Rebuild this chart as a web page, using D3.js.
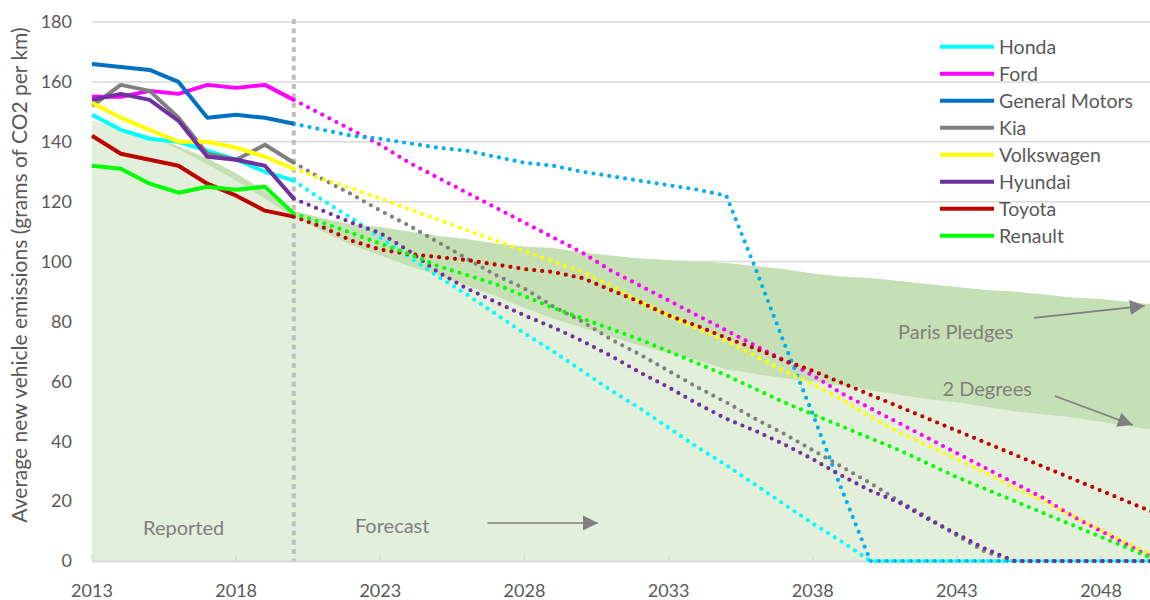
<!DOCTYPE html>
<html><head><meta charset="utf-8">
<script src="https://cdn.jsdelivr.net/npm/d3@7"></script>
<style>
body{margin:0;background:#fff}
svg{display:block}
text{font-family:Lato,"Source Sans Pro","Noto Sans",sans-serif}
</style>
</head><body>
<svg id="chart" width="1150" height="600"></svg>
<script>
// ---------- DATA ----------
const reportedYears = [2013,2014,2015,2016,2017,2018,2019,2020];
const forecastYears = [2020,2021,2022,2023,2024,2025,2026,2027,2028,2029,2030,2031,2032,2033,2034,2035,2036,2037,2038,2039,2040,2041,2042,2043,2044,2045,2046,2047,2048,2049,2050];
const bandYears = [2013,2014,2015,2016,2017,2018,2019,2020,2021,2022,2023,2024,2025,2026,2027,2028,2029,2030,2031,2032,2033,2034,2035,2036,2037,2038,2039,2040,2041,2042,2043,2044,2045,2046,2047,2048,2049,2050];

const parisPledges = [147,144.5,142,138.5,134.5,129.5,123.5,117,114.5,112.5,111.5,110,108.5,107.5,106,105,104.5,103,102,101,100.5,100,99.5,98.5,97.5,96,95,94.5,93.5,92.5,91.5,90.5,90,89,88,87.5,86.5,85.5];
const twoDegrees   = [147,144.5,142,137.5,132.5,127,121,115,110,105.5,102,98.5,95.5,92,88.5,84.5,81,78,75,72,69.5,67,64,62.5,61,60,58.5,57,55.5,54,53,51.5,50,49,48,46.5,45,43.5];

const makers = ["Honda","Ford","General Motors","Kia","Volkswagen","Hyundai","Toyota","Renault"];

const hondaReported   = [149,144,141,140,137,134,130,127];
const fordReported    = [155,155,157,156,159,158,159,154];
const gmReported      = [166,165,164,160,148,149,148,146];
const kiaReported     = [152,159,157,148,136,134,139,133];
const vwReported      = [153,148,144,140,140,138,135,131];
const hyundaiReported = [154,156,154,147,135,134,132,121];
const toyotaReported  = [142,136,134,132,126,122,117,115];
const renaultReported = [132,131,126,123,125,124,125,116];

const hondaForecast   = [127,120.5,114.5,108,101.5,95,89,82.5,76,70,63.5,57,51,44.5,38,32,25.5,19,12.5,6.5,0,0,0,0,0,0,0,0,0,0,0];
const fordForecast    = [154,149,144,139,133,128,123,118,113,108,103,97,92,87,82,77,72,67,62,56,51,46,41,36,31,26,21,15,10,5,0];
const gmForecast      = [146,144,142,141,139.5,138,137,135,133,132,130,128.5,127,125.5,124,122,98,73,49,24,0,0,0,0,0,0,0,0,0,0,0];
const kiaForecast     = [133,127.5,122.5,117,112,106.5,101,95.5,91,85,80,74,69,63.5,58,53,47.5,42.5,37,31.5,26,20,14.5,8.5,3,0,0,0,0,0,0];
const vwForecast      = [131,127.5,124.5,121,117.5,114,110.5,107,103.5,100,96.5,92,86.5,82,77.5,73.5,68.5,63.5,59,54,48,43,38.5,34,29.5,24.5,20,15,10.5,5.5,1];
const hyundaiForecast = [121,117,113,109.5,103.5,96.5,91,86.5,82,78,73.5,68.5,63,58,52.5,47.5,43.5,39,34,28.5,23.5,19.5,14,9,4,0,0,0,0,0,0];
const toyotaForecast  = [115,111.5,107,104,102.5,101.5,100.5,99,97.5,96.5,94.5,90.5,86.5,82,78.5,74.5,71,67,63.5,59.5,55.5,51.5,47.5,43.5,39.5,35.5,31.5,27.5,23.5,19.5,15.5];
const renaultForecast = [116,113,109.5,106,102.5,98.5,95.5,92.5,88.5,84.5,81,77.5,74,70,66,62,57.5,53,49,45,41,37,32.5,28,24,20,16,12,8,4,0];

const yTicks = [0,20,40,60,80,100,120,140,160,180];
const xTicks = [2013,2018,2023,2028,2033,2038,2043,2048];
const yTitle = "Average new vehicle emissions (grams of CO2 per km)";

// ---------- STYLE ----------
const solidColors  = ["#00ffff","#ff00ff","#0070c0","#808080","#ffff00","#7030a0","#c00000","#00ff00"];
const dottedColors = ["#00ffff","#ff00ff","#00b0f0","#808080","#ffff00","#7030a0","#c00000","#00ff00"];
const reported = [hondaReported,fordReported,gmReported,kiaReported,vwReported,hyundaiReported,toyotaReported,renaultReported];
const forecast = [hondaForecast,fordForecast,gmForecast,kiaForecast,vwForecast,hyundaiForecast,toyotaForecast,renaultForecast];

const svg = d3.select("#chart");
const x = d3.scaleLinear().domain([2013,2050]).range([92, 92 + 37*28.83]);
const y = d3.scaleLinear().domain([0,180]).range([561, 22]);
const textGrey = "#595959";
const annGrey = "#7f7f7f";

// gridlines
svg.append("g").selectAll("line").data(yTicks.filter(d=>d>0)).join("line")
  .attr("x1", x(2013)).attr("x2", 1150)
  .attr("y1", d=>y(d)).attr("y2", d=>y(d))
  .attr("stroke", "#d9d9d9").attr("stroke-width", 1.5);

// areas
const area = vals => d3.area().x((d,i)=>x(bandYears[i])).y0(y(0)).y1(d=>y(d))(vals);
svg.append("path").attr("d", area(parisPledges)).attr("fill", "#c5e0b4");
svg.append("path").attr("d", area(twoDegrees)).attr("fill", "#e2efda");

// x axis line + ticks
svg.append("line").attr("x1", x(2013)).attr("x2", 1150).attr("y1", y(0)+0.5).attr("y2", y(0)+0.5)
  .attr("stroke", "#d9d9d9").attr("stroke-width", 2);
svg.append("g").selectAll("line").data(xTicks).join("line")
  .attr("x1", d=>x(d)).attr("x2", d=>x(d)).attr("y1", y(0)).attr("y2", y(0)-6)
  .attr("stroke", "#d9d9d9").attr("stroke-width", 1.5);

// x tick labels
svg.append("g").selectAll("text").data(xTicks).join("text")
  .attr("x", d=>x(d)).attr("y", 597).attr("text-anchor","middle")
  .attr("font-size", 18).attr("fill", textGrey).text(d=>d);

// y tick labels
svg.append("g").selectAll("text").data(yTicks).join("text")
  .attr("x", 72).attr("y", d=>y(d)).attr("dy","0.35em").attr("text-anchor","end")
  .attr("font-size", 18).attr("fill", textGrey).text(d=>d);

// y title
svg.append("text").attr("transform", `translate(27,${275}) rotate(-90)`)
  .attr("text-anchor","middle").attr("font-size", 21).attr("fill", textGrey).text(yTitle);

// vertical 2020 divider
svg.append("line").attr("x1", x(2020)).attr("x2", x(2020)).attr("y1", y(181)).attr("y2", y(0))
  .attr("stroke", "#bfbfbf").attr("stroke-width", 4).attr("stroke-dasharray", "5 4.3");

// annotations
const defs = svg.append("defs");
defs.append("marker").attr("id","arr").attr("markerUnits","userSpaceOnUse")
  .attr("markerWidth",16).attr("markerHeight",15).attr("refX",15).attr("refY",7.5).attr("orient","auto")
  .append("path").attr("d","M0,0 L15,7.5 L0,15 Z").attr("fill", annGrey);

const annText = [
  {t:"Reported", yr:2014.77, v:8.7},
  {t:"Forecast", yr:2022.12, v:9.35},
  {t:"Paris Pledges", yr:2040.96, v:74.1},
  {t:"2 Degrees", yr:2042.5, v:55.1}
];
svg.append("g").selectAll("text").data(annText).join("text")
  .attr("x", d=>x(d.yr)).attr("y", d=>y(d.v)).attr("font-size", 20).attr("fill", annGrey).text(d=>d.t);

const arrows = [
  {a:[2026.72,12.7], b:[2030.55,12.7]},
  {a:[2045.67,81.2], b:[2049.52,85.2]},
  {a:[2046.4,55.1], b:[2049.1,45.4]}
];
svg.append("g").selectAll("line").data(arrows).join("line")
  .attr("x1", d=>x(d.a[0])).attr("y1", d=>y(d.a[1])).attr("x2", d=>x(d.b[0])).attr("y2", d=>y(d.b[1]))
  .attr("stroke", annGrey).attr("stroke-width", 1.6).attr("marker-end","url(#arr)");

// series lines
const line = yrs => d3.line().x((d,i)=>x(yrs[i])).y(d=>y(d));
makers.forEach((m,i)=>{
  svg.append("path").attr("d", line(forecastYears)(forecast[i])).attr("fill","none")
    .attr("stroke", dottedColors[i]).attr("stroke-width", 4.2)
    .attr("stroke-linecap","round").attr("stroke-dasharray","0 8");
});
makers.forEach((m,i)=>{
  svg.append("path").attr("d", line(reportedYears)(reported[i])).attr("fill","none")
    .attr("stroke", solidColors[i]).attr("stroke-width", 4).attr("stroke-linejoin","round");
});

// legend
const lg = svg.append("g");
makers.forEach((m,i)=>{
  const ly = 46.7 + 27*i;
  lg.append("line").attr("x1",940).attr("x2",994).attr("y1",ly).attr("y2",ly)
    .attr("stroke", solidColors[i]).attr("stroke-width",4);
  lg.append("text").attr("x",999).attr("y",ly).attr("dy","0.35em").attr("font-size",19.5)
    .attr("fill", textGrey).text(m);
});
</script>
</body></html>
